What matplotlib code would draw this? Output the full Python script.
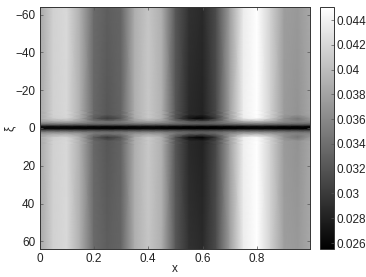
import numpy as np
import matplotlib
matplotlib.use('Agg')
import matplotlib.pyplot as plt

x = [0, .05, .1, .15, .2, .25, .3, .35, .4, .45, .5, .55, .6, .65, .7, .75, .8, .85, .9, .95, .995]
xi = [-64, -9, -7, -5, -3.2, -2.2, -1.2, -0.5, 0, 0.5, 1.2, 2.2, 3.2, 5, 7, 9, 64]

# values, one list per xi level
far = [.0382, .0415, .0421, .0388, .0337, .0327, .0333, .0388, .0407, .0388, .0323, .0294, .0288, .0314, .0376, .0436, .045, .0415, .0376, .0372, .0384]
near = [.0384, .0415, .0420, .0388, .0335, .0322, .0332, .0388, .0408, .0390, .0322, .0288, .0282, .0312, .0378, .0438, .045, .0415, .0374, .0368, .0382]
blob = [.0386, .0412, .0418, .0385, .0325, .0298, .0322, .0385, .0408, .0390, .0318, .0268, .0258, .0300, .0376, .0436, .0448, .0412, .0365, .0345, .0372]
band = [.0372, .0382, .0385, .0372, .0348, .0342, .0348, .0370, .0378, .0370, .0345, .0325, .0320, .0335, .0362, .0385, .0390, .0380, .0362, .0355, .0360]
edge = [.0350, .0353, .0353, .0347, .0340, .0337, .0340, .0347, .0350, .0347, .0337, .0330, .0327, .0333, .0343, .0353, .0355, .0350, .0343, .0340, .0340]
inner = [.0305, .0305, .0305, .0303, .0301, .0299, .0301, .0303, .0304, .0302, .0300, .0297, .0295, .0297, .0301, .0305, .0305, .0304, .0301, .0300, .0300]
line = [.0262, .0262, .0262, .0261, .0260, .0259, .0260, .0260, .0261, .0260, .0259, .0257, .0256, .0257, .0258, .0260, .0260, .0260, .0258, .0258, .0258]

z = np.array([far, near, near, blob, band, edge, inner, line, line, line, inner, edge, band, blob, near, near, far])

cbar_ticks = [.026, .028, .03, .032, .034, .036, .038, .04, .042, .044]

plt.rcParams['font.family'] = ['Liberation Sans', 'DejaVu Sans']
plt.rcParams['font.size'] = 8.5
plt.rcParams['text.color'] = '#222222'
plt.rcParams['axes.labelcolor'] = '#222222'
plt.rcParams['xtick.labelcolor'] = '#222222'
plt.rcParams['ytick.labelcolor'] = '#222222'

W, H = 366, 277
fig = plt.figure(figsize=(W / 100, H / 100), dpi=100)
ax = fig.add_axes([39.5 / W, 1 - 249 / H, 270.5 / W, 242 / H])
m = ax.pcolormesh(x, xi, z, cmap='gray', shading='gouraud', vmin=.02552, vmax=.04505)
ax.set_xlim(0, .995)
ax.set_ylim(64, -64)
ax.set_xticks([0, .2, .4, .6, .8])
ax.set_xticklabels(['0', '0.2', '0.4', '0.6', '0.8'])
ax.set_yticks([-60, -40, -20, 0, 20, 40, 60])
ax.set_yticklabels(['\u221260', '\u221240', '\u221220', '0', '20', '40', '60'])
ax.tick_params(direction='in', length=2.5, width=.5, top=True, right=True, pad=3, color='#555555')
ax.set_xlabel('x')
ax.set_ylabel('\u03be', va='center')
ax.xaxis.set_label_coords(.5, -.083)
ax.yaxis.set_label_coords(-.109, .5)
ax.xaxis.label.set_verticalalignment('center')
for s in ax.spines.values():
    s.set_linewidth(.7)
    s.set_color('#333333')

cax = fig.add_axes([320 / W, 1 - 249 / H, 14 / W, 242 / H])
cb = fig.colorbar(m, cax=cax)
cb.set_ticks(cbar_ticks)
cb.set_ticklabels(['%g' % t for t in cbar_ticks])
cax.tick_params(direction='in', length=2.5, width=.5, pad=2, color='#555555')
cb.outline.set_linewidth(.7)
cb.outline.set_edgecolor('#333333')

fig.savefig('out.png', dpi=100)
